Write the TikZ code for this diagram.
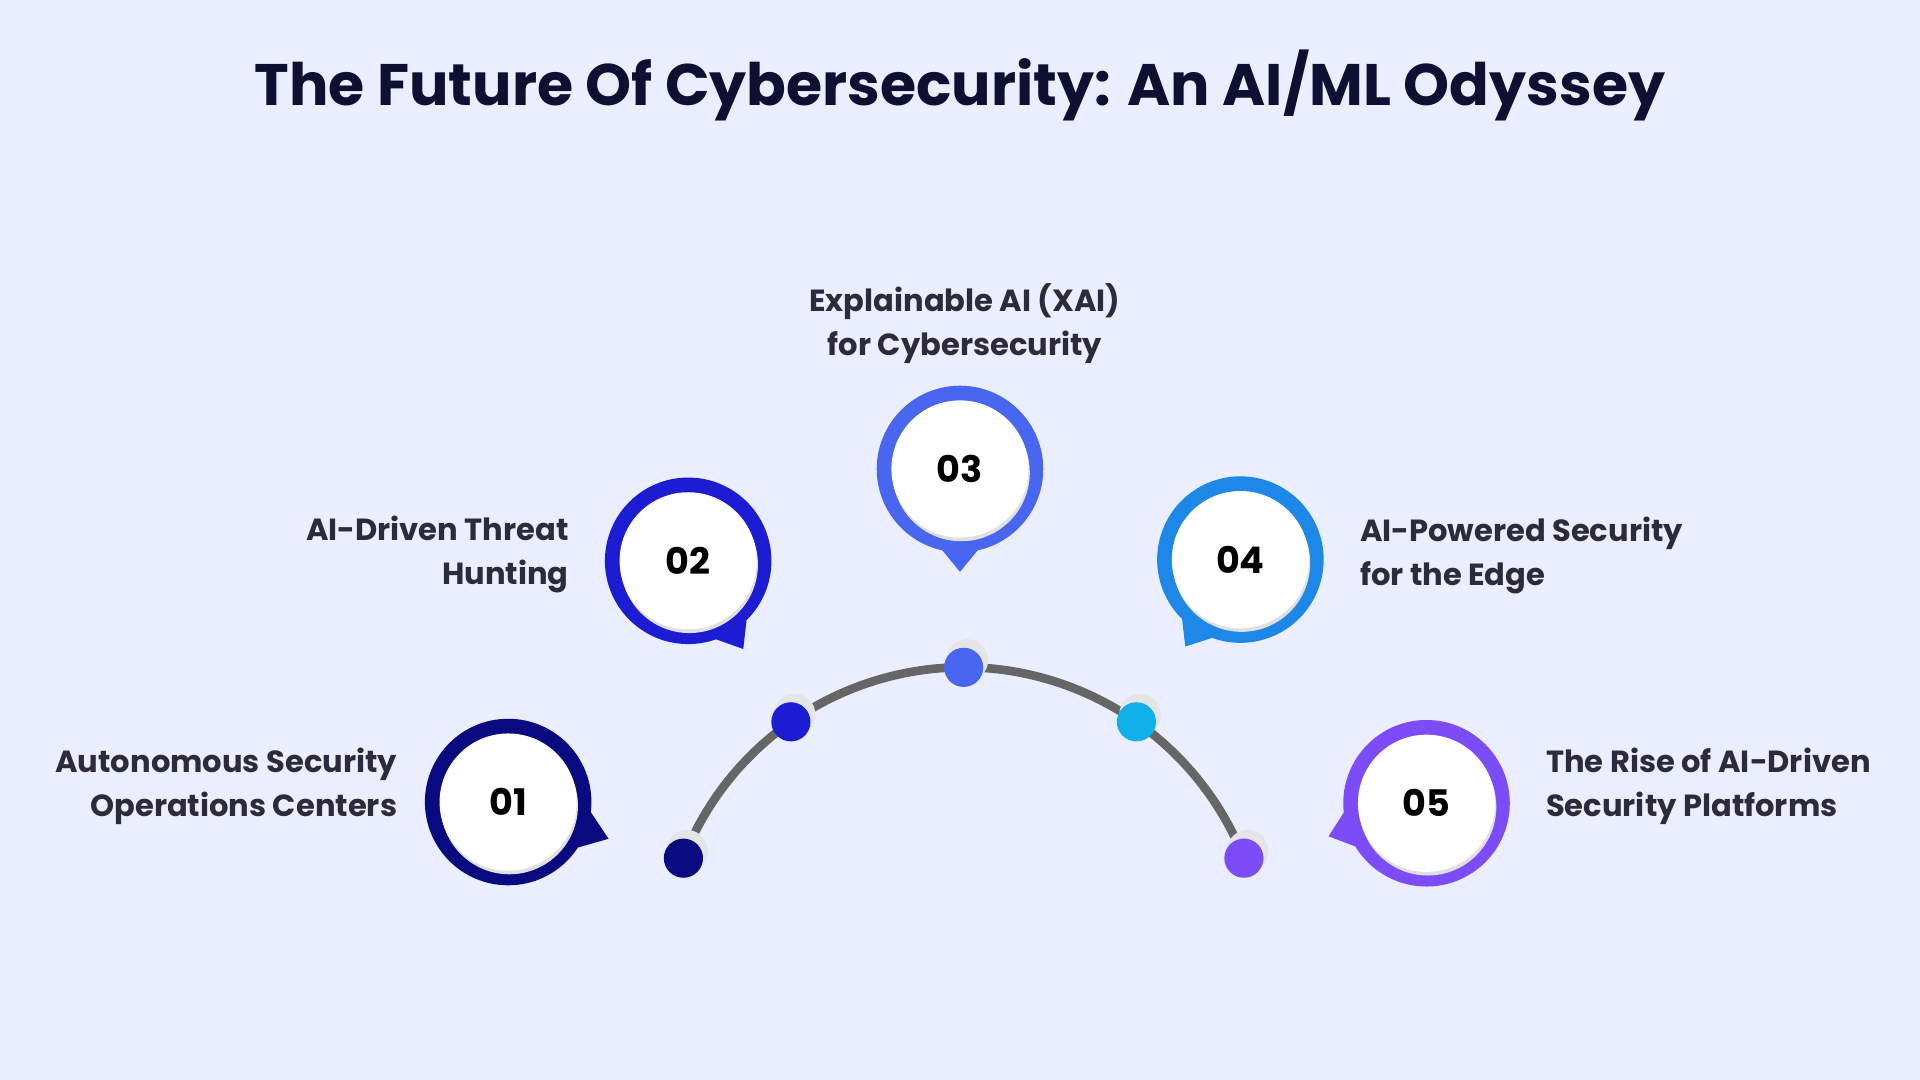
\documentclass[tikz,border=0pt]{standalone}
\usepackage{fontspec}
\setmainfont{Poppins}
\definecolor{bg}{HTML}{EAEEFE}
\definecolor{tc}{HTML}{0D1030}
\definecolor{lc}{HTML}{2B2B3A}
\definecolor{cA}{HTML}{0A0A80}
\definecolor{cB}{HTML}{1C1CD2}
\definecolor{cC}{HTML}{4866F0}
\definecolor{cD}{HTML}{1E88E8}
\definecolor{cDb}{HTML}{10B0EA}
\definecolor{cE}{HTML}{7B4CF8}
\tikzset{
 lbl/.style={font=\fontsize{7.1}{10.2}\selectfont\bfseries, text=lc, inner sep=0pt},
 num/.style={font=\fontsize{8.5}{10}\selectfont\bfseries, text=black, inner sep=0pt},
 dot/.style={circle, minimum size=32*0.01cm, inner sep=0pt},
}
\newcommand{\bubble}[8]{%
 \coordinate (#1) at (#2,#3);
 \fill[#7] (#1) circle (68) ($(#1)+(#6-20:62)$) -- (#4,#5) -- ($(#1)+(#6+20:62)$) -- cycle;
 \fill[black!12] ($(#1)+(1,3)$) circle (56);
 \fill[white] (#1) circle (56);
 \node[num] (#1n) at (#1) {#8};
}
\usetikzlibrary{calc}
\begin{document}
\begin{tikzpicture}[x=0.01cm,y=-0.01cm]
\fill[bg] (0,0) rectangle (1568,882);
\useasboundingbox (0,0) rectangle (1568,882);
\node[font=\fontsize{13.6}{16}\selectfont\bfseries, text=tc] (title) at (784,70) {The Future Of Cybersecurity: An AI/ML Odyssey};
% arc
\coordinate (ac) at (787,791);
\draw[line width=2pt, color=black!60] ($(ac)+(201.5:246)$) arc[start angle=201.5, end angle=338.5, radius=246];
\foreach \a/\c/\n in {201.5/cA/d1,235/cB/d2,270/cC/d3,305/cDb/d4,338.5/cE/d5}{
 \fill[black!10] ($(ac)+(\a:246)+(3,-6)$) circle (17);
 \node[dot, fill=\c] (\n) at ($(ac)+(\a:246)$) {};
}
\bubble{b1}{415}{655}{497}{685}{20}{cA}{01}
\bubble{b2}{562}{458}{607}{530}{58}{cB}{02}
\bubble{b3}{784}{383}{784}{467}{90}{cC}{03}
\bubble{b4}{1013}{457}{968}{528}{122}{cD}{04}
\bubble{b5}{1165}{656}{1085}{683}{161}{cE}{05}
\node[lbl, anchor=east, align=right] (t1) at (325,642) {Autonomous Security\\Operations Centers};
\node[lbl, anchor=east, align=right] (t2) at (465,453) {AI-Driven Threat\\Hunting};
\node[lbl, align=center] (t3) at (788,264) {Explainable AI (XAI)\\for Cybersecurity};
\node[lbl, anchor=west, align=left] (t4) at (1110,454) {AI-Powered Security\\for the Edge};
\node[lbl, anchor=west, align=left] (t5) at (1262,642) {The Rise of AI-Driven\\Security Platforms};
\end{tikzpicture}
\end{document}
